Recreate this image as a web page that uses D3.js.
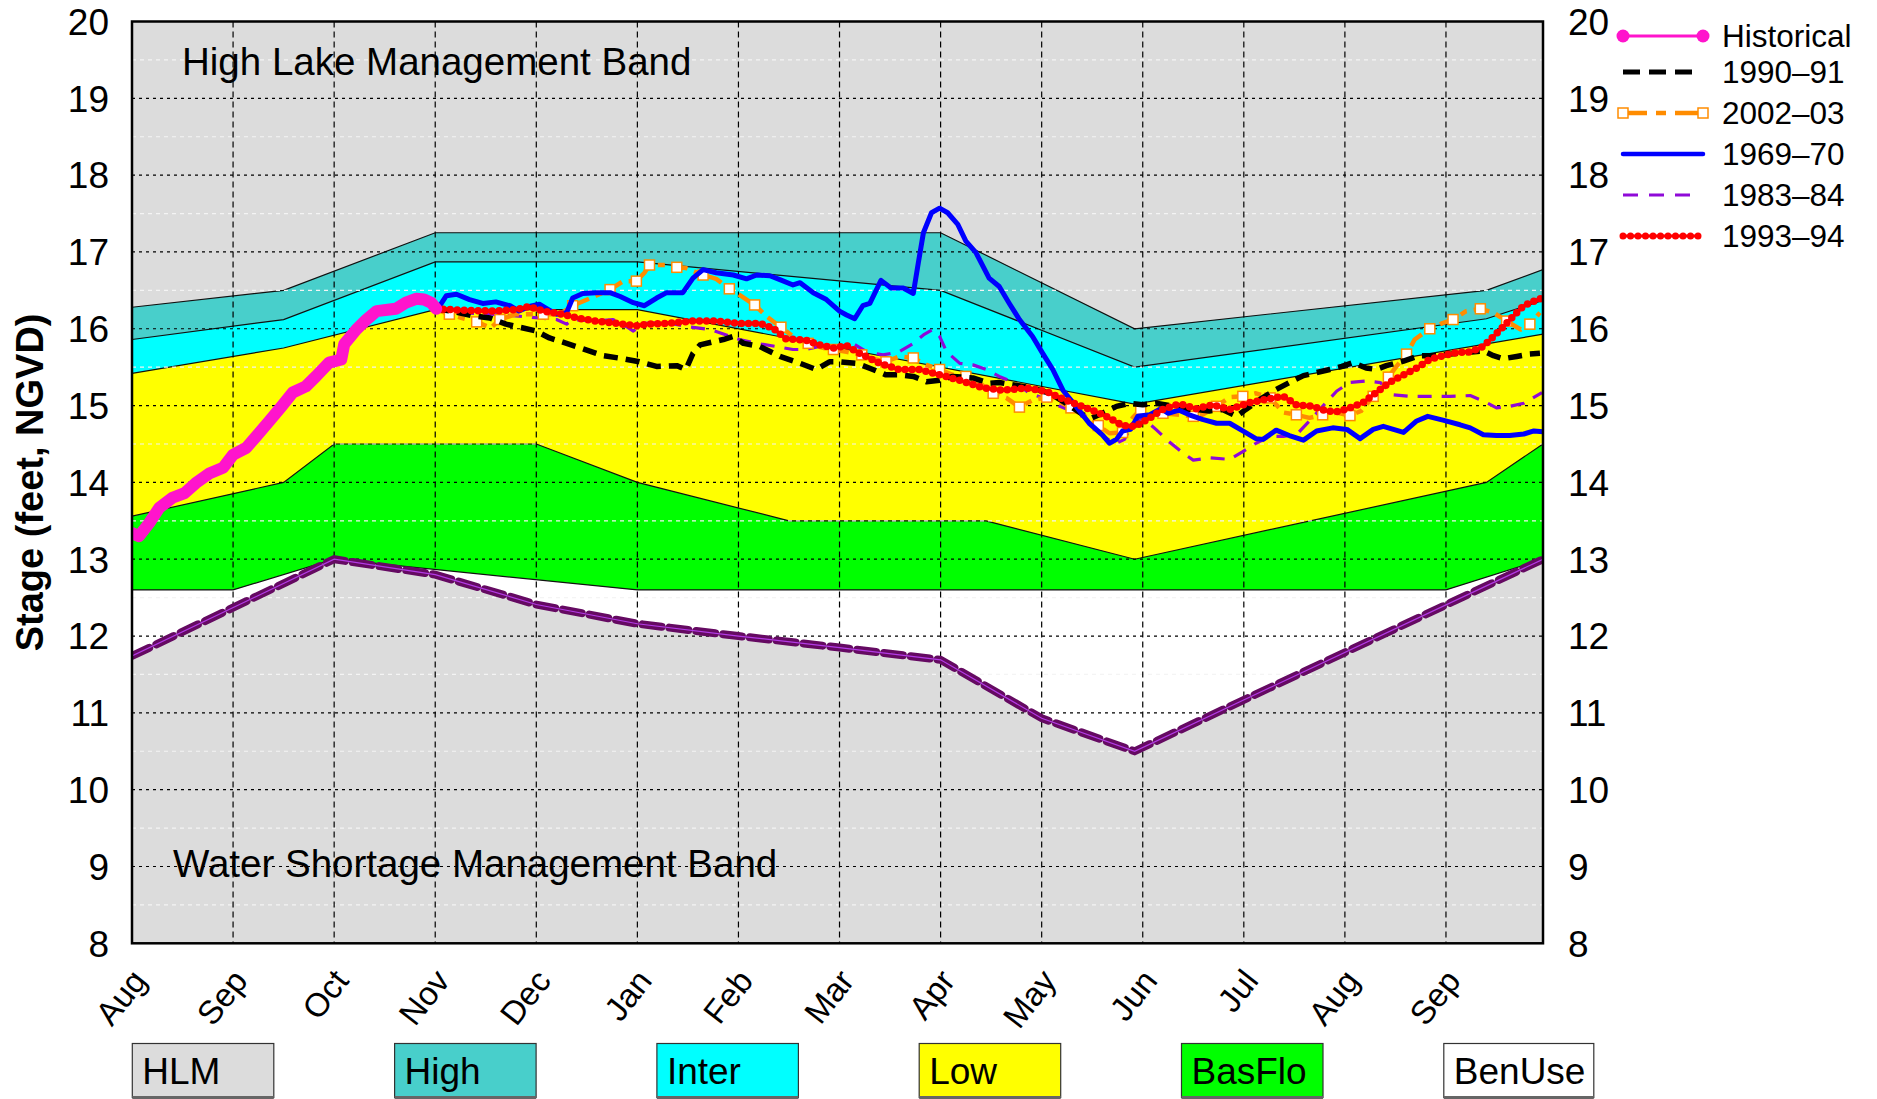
<!DOCTYPE html>
<html>
<head>
<meta charset="utf-8">
<script src="https://cdn.jsdelivr.net/npm/d3@7"></script>
<style>
  body { margin: 0; background: #fff; }
  svg { font-family: "Liberation Sans", Arial, sans-serif; }
</style>
</head>
<body>
<div id="chart"></div>
<script>
// month ticks (month index 0 = Aug 1)
var monthLabels = ["Aug", "Sep", "Oct", "Nov", "Dec", "Jan", "Feb", "Mar", "Apr", "May", "Jun", "Jul", "Aug", "Sep"];
var stageTicks = [8, 9, 10, 11, 12, 13, 14, 15, 16, 17, 18, 19, 20];

// band boundaries [month index, stage]
var highTop = [[0, 16.28], [1.5, 16.5], [3, 17.25], [8, 17.25], [9.92, 16.0], [13.4, 16.5], [13.96, 16.77]];
var interTop = [[0, 15.86], [1.5, 16.12], [3, 16.87], [5, 16.87], [8, 16.5], [9.92, 15.5], [13.4, 16.13], [13.96, 16.37]];
var lowTop = [[0, 15.42], [1.5, 15.75], [3, 16.25], [5, 16.25], [9.92, 15.02], [13.96, 15.93]];
var basFloTop = [[0, 13.56], [1.5, 14.0], [2, 14.5], [4, 14.5], [5, 14.0], [6.5, 13.5], [8.45, 13.5], [9.92, 13.0], [13.4, 14.0], [13.96, 14.5]];
var basFloBottom = [[0, 12.6], [1, 12.6], [2, 13.0], [5, 12.6], [13, 12.6], [13.96, 13.0]];
var wsmLine = [[0, 11.74], [2, 13.0], [3, 12.8], [4, 12.41], [5, 12.16], [6, 12.0], [7, 11.85], [8, 11.69], [9, 10.93], [9.92, 10.5], [13.96, 13.0]];

// stage series [month index, stage]
var historical = [[0, 13.34], [0.07, 13.3], [0.17, 13.47], [0.27, 13.67], [0.4, 13.8], [0.52, 13.86], [0.63, 13.99], [0.77, 14.12], [0.9, 14.19], [1.0, 14.36], [1.13, 14.45], [1.23, 14.6], [1.36, 14.8], [1.48, 14.99], [1.59, 15.17], [1.72, 15.25], [1.82, 15.38], [1.95, 15.56], [2.07, 15.6], [2.1, 15.8], [2.22, 15.99], [2.32, 16.12], [2.42, 16.23], [2.55, 16.25], [2.61, 16.26], [2.71, 16.34], [2.81, 16.39], [2.89, 16.38], [2.96, 16.34], [3.01, 16.26]];

var y1990 = [[3.0, 16.26], [3.2, 16.22], [3.37, 16.17], [3.54, 16.14], [3.7, 16.06], [3.87, 16.01], [4.0, 15.97], [4.13, 15.88], [4.3, 15.81], [4.46, 15.74], [4.66, 15.65], [4.86, 15.61], [5.02, 15.57], [5.19, 15.51], [5.39, 15.52], [5.48, 15.47], [5.55, 15.68], [5.62, 15.79], [5.75, 15.83], [5.85, 15.86], [5.95, 15.9], [6.05, 15.81], [6.21, 15.77], [6.41, 15.64], [6.61, 15.55], [6.77, 15.47], [6.9, 15.57], [7.0, 15.57], [7.17, 15.55], [7.33, 15.47], [7.46, 15.4], [7.59, 15.4], [7.73, 15.38], [7.86, 15.31], [7.99, 15.33], [8.12, 15.38], [8.32, 15.36], [8.49, 15.29], [8.58, 15.3], [8.72, 15.27], [8.91, 15.23], [9.08, 15.16], [9.24, 15.03], [9.41, 14.88], [9.5, 14.84], [9.6, 14.9], [9.74, 14.99], [9.87, 15.03], [10.0, 15.01], [10.13, 15.03], [10.26, 15.0], [10.4, 14.95], [10.53, 14.95], [10.66, 14.93], [10.79, 14.95], [10.93, 14.86], [11.02, 14.95], [11.16, 15.08], [11.32, 15.21], [11.45, 15.3], [11.59, 15.39], [11.72, 15.43], [11.85, 15.47], [11.97, 15.51], [12.08, 15.56], [12.21, 15.49], [12.31, 15.47], [12.41, 15.52], [12.58, 15.58], [12.74, 15.65], [12.91, 15.65], [13.04, 15.67], [13.2, 15.69], [13.37, 15.71], [13.47, 15.65], [13.57, 15.61], [13.7, 15.64], [13.83, 15.67], [13.93, 15.68]];

var y2002 = [[3.01, 16.25], [3.14, 16.19], [3.29, 16.13], [3.41, 16.09], [3.55, 16.01], [3.64, 16.12], [3.8, 16.19], [4.07, 16.19], [4.23, 16.19], [4.36, 16.3], [4.59, 16.43], [4.73, 16.51], [4.86, 16.62], [4.99, 16.62], [5.07, 16.73], [5.12, 16.83], [5.29, 16.83], [5.39, 16.8], [5.48, 16.79], [5.65, 16.7], [5.78, 16.65], [5.91, 16.52], [6.01, 16.44], [6.16, 16.31], [6.28, 16.16], [6.42, 16.02], [6.54, 15.9], [6.69, 15.81], [6.84, 15.75], [6.94, 15.73], [7.07, 15.7], [7.22, 15.66], [7.36, 15.6], [7.46, 15.57], [7.59, 15.64], [7.73, 15.62], [7.86, 15.53], [7.99, 15.47], [8.12, 15.4], [8.25, 15.38], [8.39, 15.29], [8.52, 15.16], [8.65, 15.1], [8.78, 14.98], [8.91, 15.07], [9.05, 15.11], [9.18, 15.05], [9.29, 14.97], [9.41, 14.88], [9.56, 14.74], [9.67, 14.64], [9.8, 14.65], [9.9, 14.84], [9.98, 14.95], [10.07, 14.88], [10.2, 14.9], [10.36, 14.88], [10.5, 14.86], [10.59, 14.88], [10.73, 14.99], [10.86, 15.11], [10.99, 15.12], [11.12, 15.16], [11.26, 15.1], [11.39, 14.91], [11.52, 14.88], [11.65, 14.84], [11.78, 14.88], [11.92, 14.91], [12.05, 14.87], [12.16, 14.93], [12.28, 15.12], [12.38, 15.25], [12.43, 15.37], [12.51, 15.51], [12.61, 15.67], [12.69, 15.86], [12.84, 16.0], [12.96, 16.07], [13.07, 16.12], [13.2, 16.23], [13.34, 16.26], [13.47, 16.21], [13.6, 16.1], [13.74, 15.99], [13.83, 16.06], [13.93, 16.21]];

var y1969 = [[3.03, 16.27], [3.11, 16.43], [3.21, 16.45], [3.34, 16.38], [3.47, 16.33], [3.6, 16.35], [3.74, 16.3], [3.83, 16.23], [3.93, 16.29], [4.03, 16.32], [4.12, 16.25], [4.2, 16.19], [4.3, 16.21], [4.36, 16.4], [4.46, 16.46], [4.59, 16.47], [4.73, 16.47], [4.83, 16.42], [4.96, 16.34], [5.07, 16.3], [5.19, 16.4], [5.29, 16.47], [5.45, 16.47], [5.55, 16.66], [5.65, 16.77], [5.78, 16.73], [5.95, 16.7], [6.08, 16.65], [6.18, 16.7], [6.31, 16.69], [6.41, 16.64], [6.54, 16.57], [6.61, 16.6], [6.74, 16.47], [6.87, 16.38], [7.0, 16.23], [7.07, 16.18], [7.15, 16.13], [7.23, 16.3], [7.3, 16.33], [7.41, 16.63], [7.51, 16.53], [7.63, 16.53], [7.73, 16.46], [7.78, 16.86], [7.83, 17.25], [7.91, 17.51], [7.99, 17.57], [8.07, 17.51], [8.17, 17.36], [8.25, 17.14], [8.35, 16.99], [8.48, 16.66], [8.58, 16.55], [8.68, 16.33], [8.78, 16.12], [8.91, 15.9], [9.01, 15.68], [9.11, 15.47], [9.21, 15.2], [9.34, 14.99], [9.47, 14.77], [9.6, 14.62], [9.67, 14.51], [9.74, 14.56], [9.8, 14.67], [9.88, 14.69], [9.95, 14.86], [10.07, 14.88], [10.18, 14.96], [10.25, 14.9], [10.36, 14.94], [10.46, 14.88], [10.59, 14.82], [10.73, 14.77], [10.86, 14.77], [10.99, 14.67], [11.12, 14.57], [11.19, 14.56], [11.32, 14.68], [11.45, 14.61], [11.59, 14.55], [11.72, 14.67], [11.88, 14.71], [12.02, 14.69], [12.15, 14.57], [12.28, 14.69], [12.38, 14.73], [12.48, 14.69], [12.58, 14.65], [12.71, 14.8], [12.82, 14.86], [12.97, 14.81], [13.14, 14.75], [13.24, 14.71], [13.37, 14.62], [13.5, 14.61], [13.63, 14.61], [13.77, 14.63], [13.87, 14.67], [13.96, 14.66]];

var y1983 = [[3.01, 16.25], [3.27, 16.21], [3.54, 16.19], [3.77, 16.17], [4.03, 16.14], [4.2, 16.12], [4.3, 16.06], [4.36, 16.12], [4.59, 16.1], [4.76, 16.12], [4.89, 16.03], [4.96, 15.97], [5.06, 16.07], [5.29, 16.08], [5.48, 16.03], [5.72, 15.99], [5.88, 15.92], [6.01, 15.86], [6.18, 15.81], [6.37, 15.77], [6.54, 15.73], [6.67, 15.73], [6.8, 15.77], [6.94, 15.75], [7.13, 15.81], [7.27, 15.7], [7.43, 15.66], [7.59, 15.7], [7.73, 15.81], [7.83, 15.92], [7.92, 15.99], [7.99, 15.9], [8.06, 15.7], [8.19, 15.55], [8.32, 15.53], [8.45, 15.47], [8.58, 15.38], [8.75, 15.29], [8.88, 15.16], [9.01, 15.1], [9.18, 14.99], [9.31, 14.92], [9.44, 14.83], [9.57, 14.64], [9.67, 14.55], [9.74, 14.51], [9.82, 14.56], [9.9, 14.77], [10.0, 14.84], [10.13, 14.69], [10.26, 14.53], [10.4, 14.38], [10.5, 14.29], [10.66, 14.32], [10.86, 14.3], [10.99, 14.4], [11.12, 14.51], [11.26, 14.6], [11.39, 14.6], [11.52, 14.62], [11.65, 14.8], [11.78, 14.99], [11.92, 15.19], [12.05, 15.3], [12.21, 15.32], [12.35, 15.3], [12.48, 15.14], [12.64, 15.12], [12.87, 15.12], [13.04, 15.12], [13.24, 15.13], [13.37, 15.06], [13.5, 14.97], [13.63, 14.99], [13.77, 15.03], [13.95, 15.17]];

var y1993 = [[3.01, 16.26], [3.27, 16.24], [3.6, 16.23], [3.8, 16.25], [3.93, 16.29], [4.07, 16.23], [4.26, 16.19], [4.4, 16.14], [4.59, 16.1], [4.79, 16.07], [4.99, 16.04], [5.12, 16.06], [5.29, 16.07], [5.55, 16.1], [5.78, 16.1], [6.01, 16.07], [6.21, 16.07], [6.34, 16.01], [6.47, 15.87], [6.67, 15.85], [6.8, 15.79], [6.94, 15.75], [7.07, 15.78], [7.2, 15.68], [7.4, 15.55], [7.59, 15.47], [7.79, 15.47], [7.99, 15.4], [8.19, 15.33], [8.42, 15.23], [8.62, 15.2], [8.85, 15.23], [9.05, 15.18], [9.24, 15.07], [9.44, 14.97], [9.61, 14.88], [9.72, 14.8], [9.8, 14.74], [9.93, 14.73], [10.07, 14.84], [10.2, 14.95], [10.33, 15.01], [10.4, 15.01], [10.53, 14.96], [10.69, 15.01], [10.86, 14.95], [11.06, 15.04], [11.22, 15.08], [11.39, 15.12], [11.52, 15.01], [11.68, 14.99], [11.82, 14.93], [11.92, 14.92], [12.05, 14.97], [12.18, 15.04], [12.31, 15.17], [12.44, 15.3], [12.58, 15.4], [12.71, 15.49], [12.84, 15.6], [12.97, 15.65], [13.11, 15.69], [13.24, 15.7], [13.37, 15.77], [13.47, 15.9], [13.57, 16.03], [13.67, 16.17], [13.77, 16.3], [13.87, 16.36], [13.95, 16.4]];

var bandNames = ["HLM", "High", "Inter", "Low", "BasFlo", "BenUse"];
var seriesNames = ["Historical", "1990\u201391", "2002\u201303", "1969\u201370", "1983\u201384", "1993\u201394"];

var width = 1877, height = 1099;
var margin = { top: 21.5, right: 334, bottom: 155.7, left: 132 };
var colors = { hlm: "#dcdcdc", high: "#48cfcb", inter: "#00ffff", low: "#ffff00", basflo: "#00ff00", benuse: "#ffffff" };

var svg = d3.select("#chart").append("svg")
    .attr("width", width)
    .attr("height", height);

var x = d3.scaleLinear()
    .domain([0, 13.96])
    .range([margin.left, width - margin.right]);

var y = d3.scaleLinear()
    .domain([8, 20])
    .range([height - margin.bottom, margin.top]);

var line = d3.line().x((d) => x(d[0])).y((d) => y(d[1]));
var areaDown = d3.area().x((d) => x(d[0])).y0(y(8)).y1((d) => y(d[1]));

svg.append("clipPath").attr("id", "clip")
    .append("rect")
    .attr("x", x(0)).attr("y", y(20))
    .attr("width", x(13.96) - x(0)).attr("height", y(8) - y(20));

var plot = svg.append("g").attr("clip-path", "url(#clip)");

// bands, painted from the top one down
plot.append("rect")
    .attr("x", x(0)).attr("y", y(20))
    .attr("width", x(13.96) - x(0)).attr("height", y(8) - y(20))
    .attr("fill", colors.hlm);

[[highTop, colors.high], [interTop, colors.inter], [lowTop, colors.low], [basFloTop, colors.basflo], [basFloBottom, colors.benuse], [wsmLine, colors.hlm]]
    .forEach(function (b) {
        plot.append("path").datum(b[0]).attr("d", areaDown).attr("fill", b[1]);
    });

[highTop, interTop, lowTop, basFloTop, basFloBottom].forEach(function (b) {
    plot.append("path").datum(b).attr("d", line)
        .attr("fill", "none").attr("stroke", "#111").attr("stroke-width", 1.2);
});

// grid
var halfFeet = d3.range(8.5, 20, 1);
plot.append("g").selectAll("line").data(halfFeet).join("line")
    .attr("x1", x(0)).attr("x2", x(13.96))
    .attr("y1", (d) => y(d)).attr("y2", (d) => y(d))
    .attr("stroke", "#f4f4f4").attr("stroke-width", 1.2).attr("stroke-dasharray", "4,4");

plot.append("g").selectAll("line").data(stageTicks.slice(1, -1)).join("line")
    .attr("x1", x(0)).attr("x2", x(13.96))
    .attr("y1", (d) => y(d)).attr("y2", (d) => y(d))
    .attr("stroke", "#000").attr("stroke-width", 1.2).attr("stroke-dasharray", "3,4");

plot.append("g").selectAll("line").data(d3.range(1, 14)).join("line")
    .attr("x1", (d) => x(d)).attr("x2", (d) => x(d))
    .attr("y1", y(20)).attr("y2", y(8))
    .attr("stroke", "#000").attr("stroke-width", 1.2).attr("stroke-dasharray", "6,4");

// water shortage line
plot.append("path").datum(wsmLine).attr("d", line)
    .attr("fill", "none").attr("stroke", "#650a62").attr("stroke-width", 8)
    .attr("stroke-dasharray", "19,8").attr("stroke-linecap", "round");
plot.append("path").datum(wsmLine).attr("d", line)
    .attr("fill", "none").attr("stroke", "#b33be6").attr("stroke-width", 1.2);

// series
function addLine(g, data, stroke, w, dash) {
    return g.append("path").datum(data).attr("d", line)
        .attr("fill", "none").attr("stroke", stroke).attr("stroke-width", w)
        .attr("stroke-linejoin", "round")
        .attr("stroke-dasharray", dash || null);
}

addLine(plot, y1983, "#8f0ad8", 3.2, "14,10");
addLine(plot, y2002, "#ff8c00", 4.5, "16,7,7,7");
plot.append("g").selectAll("rect").data(y2002.filter((d, i) => i % 2 === 1)).join("rect")
    .attr("x", (d) => x(d[0]) - 5).attr("y", (d) => y(d[1]) - 5)
    .attr("width", 10).attr("height", 10)
    .attr("fill", "#fff").attr("stroke", "#ff8c00").attr("stroke-width", 1.5);
addLine(plot, y1990, "#000", 5.5, "14,8");
addLine(plot, y1969, "#0000ff", 5);
addLine(plot, y1993, "#ff0000", 3.2);
addLine(plot, y1993, "#ff0000", 7.5, "0,7").attr("stroke-linecap", "round");
addLine(plot, historical, "#ff14cc", 12).attr("stroke-linecap", "round");

// frame
svg.append("rect")
    .attr("x", x(0)).attr("y", y(20))
    .attr("width", x(13.96) - x(0)).attr("height", y(8) - y(20))
    .attr("fill", "none").attr("stroke", "#000").attr("stroke-width", 2.5);

// axes labels
svg.append("g").selectAll("text").data(stageTicks).join("text")
    .attr("x", x(0) - 23).attr("y", (d) => y(d))
    .attr("dy", "0.36em").attr("text-anchor", "end")
    .style("font-size", "37px").text((d) => d);

svg.append("g").selectAll("text").data(stageTicks).join("text")
    .attr("x", x(13.96) + 25).attr("y", (d) => y(d))
    .attr("dy", "0.36em").attr("text-anchor", "start")
    .style("font-size", "37px").text((d) => d);

svg.append("g").selectAll("text").data(monthLabels).join("text")
    .attr("transform", (d, i) => `translate(${x(i) + 16},${y(8) + 38}) rotate(-52)`)
    .attr("text-anchor", "end")
    .style("font-size", "33px").text((d) => d);

svg.append("text")
    .attr("transform", `translate(43,${(y(8) + y(20)) / 2}) rotate(-90)`)
    .attr("text-anchor", "middle")
    .style("font-size", "38px").style("font-weight", "bold")
    .text("Stage (feet, NGVD)");

// band annotations
svg.append("text").attr("x", 182).attr("y", 75)
    .style("font-size", "38.5px").text("High Lake Management Band");
svg.append("text").attr("x", 173).attr("y", 877)
    .style("font-size", "38.5px").text("Water Shortage Management Band");

// series legend
var lg = svg.append("g");
var legY = [36, 72, 113, 154, 195, 236];
var lx0 = 1623, lx1 = 1703;
legY.forEach(function (ly, i) {
    lg.append("text").attr("x", 1722).attr("y", ly).attr("dy", "0.36em")
        .style("font-size", "31.5px").text(seriesNames[i]);
});
var seg = (ly) => [[lx0, ly], [lx1, ly]];
var rawLine = d3.line();
lg.append("path").attr("d", rawLine(seg(legY[0]))).attr("stroke", "#ff14cc").attr("stroke-width", 3);
lg.selectAll("circle.h").data([lx0, lx1]).join("circle")
    .attr("cx", (d) => d).attr("cy", legY[0]).attr("r", 6.5).attr("fill", "#ff14cc");
lg.append("path").attr("d", rawLine([[lx0, legY[1]], [lx1 - 10, legY[1]]])).attr("stroke", "#000").attr("stroke-width", 5).attr("stroke-dasharray", "17,9");
lg.append("path").attr("d", rawLine(seg(legY[2]))).attr("stroke", "#ff8c00").attr("stroke-width", 4.5).attr("stroke-dasharray", "24,9,10,9");
lg.selectAll("rect.o").data([lx0, lx1]).join("rect")
    .attr("x", (d) => d - 5).attr("y", legY[2] - 5).attr("width", 10).attr("height", 10)
    .attr("fill", "#fff").attr("stroke", "#ff8c00").attr("stroke-width", 1.5);
lg.append("path").attr("d", rawLine(seg(legY[3]))).attr("stroke", "#0000ff").attr("stroke-width", 4.5).attr("stroke-linecap", "round");
lg.append("path").attr("d", rawLine([[lx0, legY[4]], [lx1 - 10, legY[4]]])).attr("stroke", "#8f0ad8").attr("stroke-width", 3).attr("stroke-dasharray", "15,11");
lg.append("path").attr("d", rawLine([[lx0, legY[5]], [lx1 - 4, legY[5]]])).attr("stroke", "#ff0000").attr("stroke-width", 3);
lg.append("path").attr("d", rawLine([[lx0, legY[5]], [lx1 - 4, legY[5]]])).attr("stroke", "#ff0000").attr("stroke-width", 7)
    .attr("stroke-dasharray", "0,7.5").attr("stroke-linecap", "round");

// band legend boxes
var boxColors = [colors.hlm, colors.high, colors.inter, colors.low, colors.basflo, colors.benuse];
var boxes = svg.append("g").selectAll("g").data(bandNames).join("g")
    .attr("transform", (d, i) => `translate(${132.3 + i * 262.3},1043.5)`);
boxes.append("rect")
    .attr("width", (d, i) => (i === 5 ? 150 : 141.5)).attr("height", 54)
    .attr("fill", (d, i) => boxColors[i]).attr("stroke", "#333").attr("stroke-width", 1.2);
boxes.append("line")
    .attr("x1", 0).attr("x2", (d, i) => (i === 5 ? 150 : 141.5))
    .attr("y1", 54).attr("y2", 54).attr("stroke", "#666").attr("stroke-width", 3);
boxes.append("text").attr("x", 10).attr("y", 40)
    .style("font-size", "37px").text((d) => d);
</script>
</body>
</html>
